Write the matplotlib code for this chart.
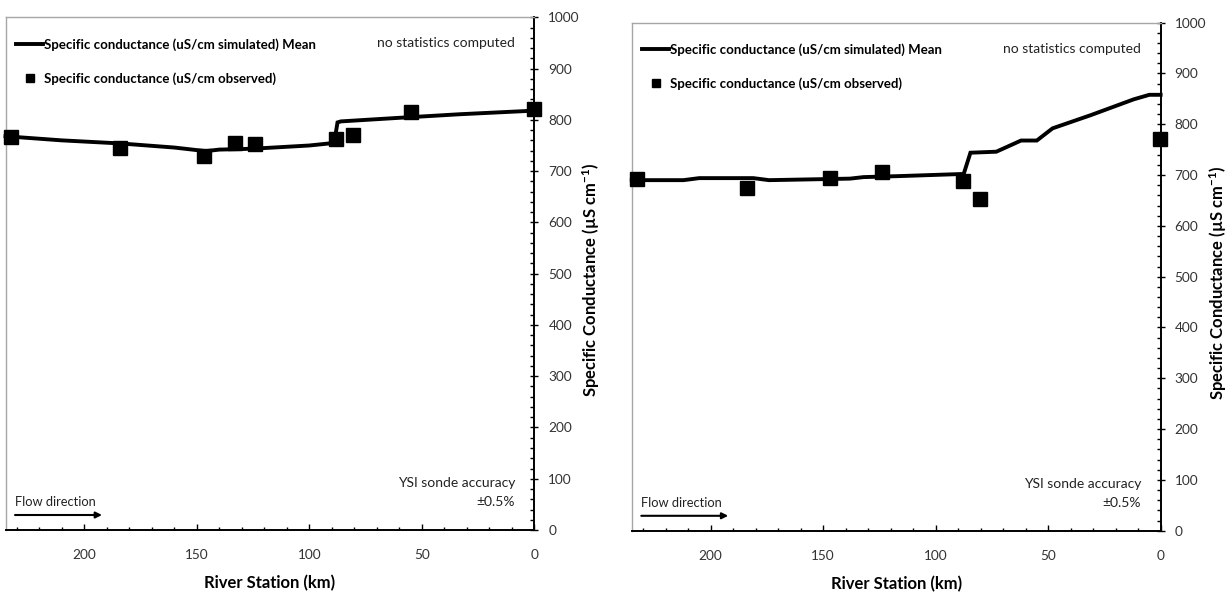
import matplotlib
matplotlib.use('Agg')
import matplotlib.pyplot as plt
from matplotlib.ticker import MultipleLocator

plt.rcParams['font.family'] = ['Lato', 'DejaVu Sans']
plt.rcParams['mathtext.fontset'] = 'custom'
plt.rcParams['mathtext.rm'] = 'Lato:bold'
plt.rcParams['mathtext.bf'] = 'Lato:bold'
plt.rcParams['mathtext.it'] = 'Lato:bold:italic'

# ---------------- data ----------------
left_sim_km = [235, 210, 184, 160, 146, 140, 130, 120, 100, 89, 87.5, 86, 60, 33, 0]
left_sim = [768, 760, 754, 746, 739, 742, 743, 745, 750, 755, 795, 797, 804, 811, 818]
left_obs_km = [232.5, 184, 147, 133, 124, 88, 80.5, 55, 0.3]
left_obs = [766, 746, 730, 754, 753, 763, 770, 815, 821]

right_sim_km = [235, 212, 205, 181, 174, 138, 132, 116, 89, 87.5, 84.5, 73, 62, 55, 48, 31, 12, 5, 0]
right_sim = [690, 690, 694, 694, 690, 693, 696, 698, 702, 702, 744, 746, 768, 768, 792, 818, 849, 858, 858]
right_obs_km = [232.5, 184, 147, 124, 88, 80.4, 0.2]
right_obs = [692, 674, 694, 707, 689, 653, 771]

sim_label = 'Specific conductance (uS/cm simulated) Mean'
obs_label = 'Specific conductance (uS/cm observed)'
xlabel = 'River Station (km)'
ylabel = r'Specific Conductance (µS cm$^{-1}$)'

fig = plt.figure(figsize=(12.31, 5.95), dpi=100)
rects = [[0.00447, 0.1092, 0.4297, 0.8617], [0.5132, 0.1081, 0.4296, 0.8538]]
panels = [(left_sim_km, left_sim, left_obs_km, left_obs),
          (right_sim_km, right_sim, right_obs_km, right_obs)]

for rect, (skm, sv, okm, ov) in zip(rects, panels):
    ax = fig.add_axes(rect)
    ax.plot(skm, sv, color='black', lw=2.8, solid_joinstyle='miter', zorder=3,
            clip_on=False, label=sim_label)
    ax.plot(okm, ov, ls='none', marker='s', ms=9.8, color='black', zorder=4,
            clip_on=False, label=obs_label)
    ax.set_xlim(235, 0)
    ax.set_ylim(0, 1000)

    for s in ['left', 'top']:
        ax.spines[s].set_color('#a6a6a6')
        ax.spines[s].set_linewidth(1.0)
    for s in ['bottom', 'right']:
        ax.spines[s].set_color('black')
        ax.spines[s].set_linewidth(1.4)

    ax.yaxis.tick_right()
    ax.yaxis.set_label_position('right')
    ax.yaxis.set_major_locator(MultipleLocator(100))
    ax.yaxis.set_minor_locator(MultipleLocator(20))
    ax.xaxis.set_major_locator(MultipleLocator(50))
    ax.xaxis.set_minor_locator(MultipleLocator(10))
    ax.tick_params(axis='y', which='major', direction='inout', length=6, width=1,
                   pad=7, labelsize=9.8, labelcolor='#333333')
    ax.tick_params(axis='y', which='minor', direction='in', length=3, width=1)
    ax.tick_params(axis='x', which='major', direction='in', length=4, width=1,
                   pad=14, labelsize=9.8, labelcolor='#333333')
    ax.tick_params(axis='x', which='minor', direction='in', length=2.5, width=1)

    ax.set_xlabel(xlabel, fontsize=12, fontweight='bold', labelpad=10)
    ax.set_ylabel(ylabel, fontsize=12, fontweight='bold')
    ax.yaxis.set_label_coords(1.108, 0.487)
    ax.yaxis.label.set_va('center')

    ax.legend(loc='upper left', bbox_to_anchor=(0.0199, 0.959), frameon=False,
              borderaxespad=0, borderpad=0, handlelength=2.05, handletextpad=0.05,
              labelspacing=1.6, markerscale=0.62,
              prop={'weight': 'bold', 'size': 9.5})

    ax.text(0.9633, 0.949, 'no statistics computed', transform=ax.transAxes,
            ha='right', va='center', fontsize=10, color='#222222')
    ax.text(0.9633, 0.0917, 'YSI sonde accuracy', transform=ax.transAxes,
            ha='right', va='center', fontsize=10, color='#222222')
    ax.text(0.9633, 0.0546, '±0.5%', transform=ax.transAxes,
            ha='right', va='center', fontsize=10, color='#222222')
    ax.text(0.018, 0.055, 'Flow direction', transform=ax.transAxes,
            ha='left', va='center', fontsize=9.3, color='#222222')
    ax.annotate('', xy=(0.1824, 0.0293), xytext=(0.018, 0.0293),
                xycoords='axes fraction', textcoords='axes fraction',
                arrowprops=dict(arrowstyle='-|>', lw=1.5, color='black',
                                mutation_scale=9, shrinkA=0, shrinkB=0))

fig.savefig('out.png', dpi=100)
